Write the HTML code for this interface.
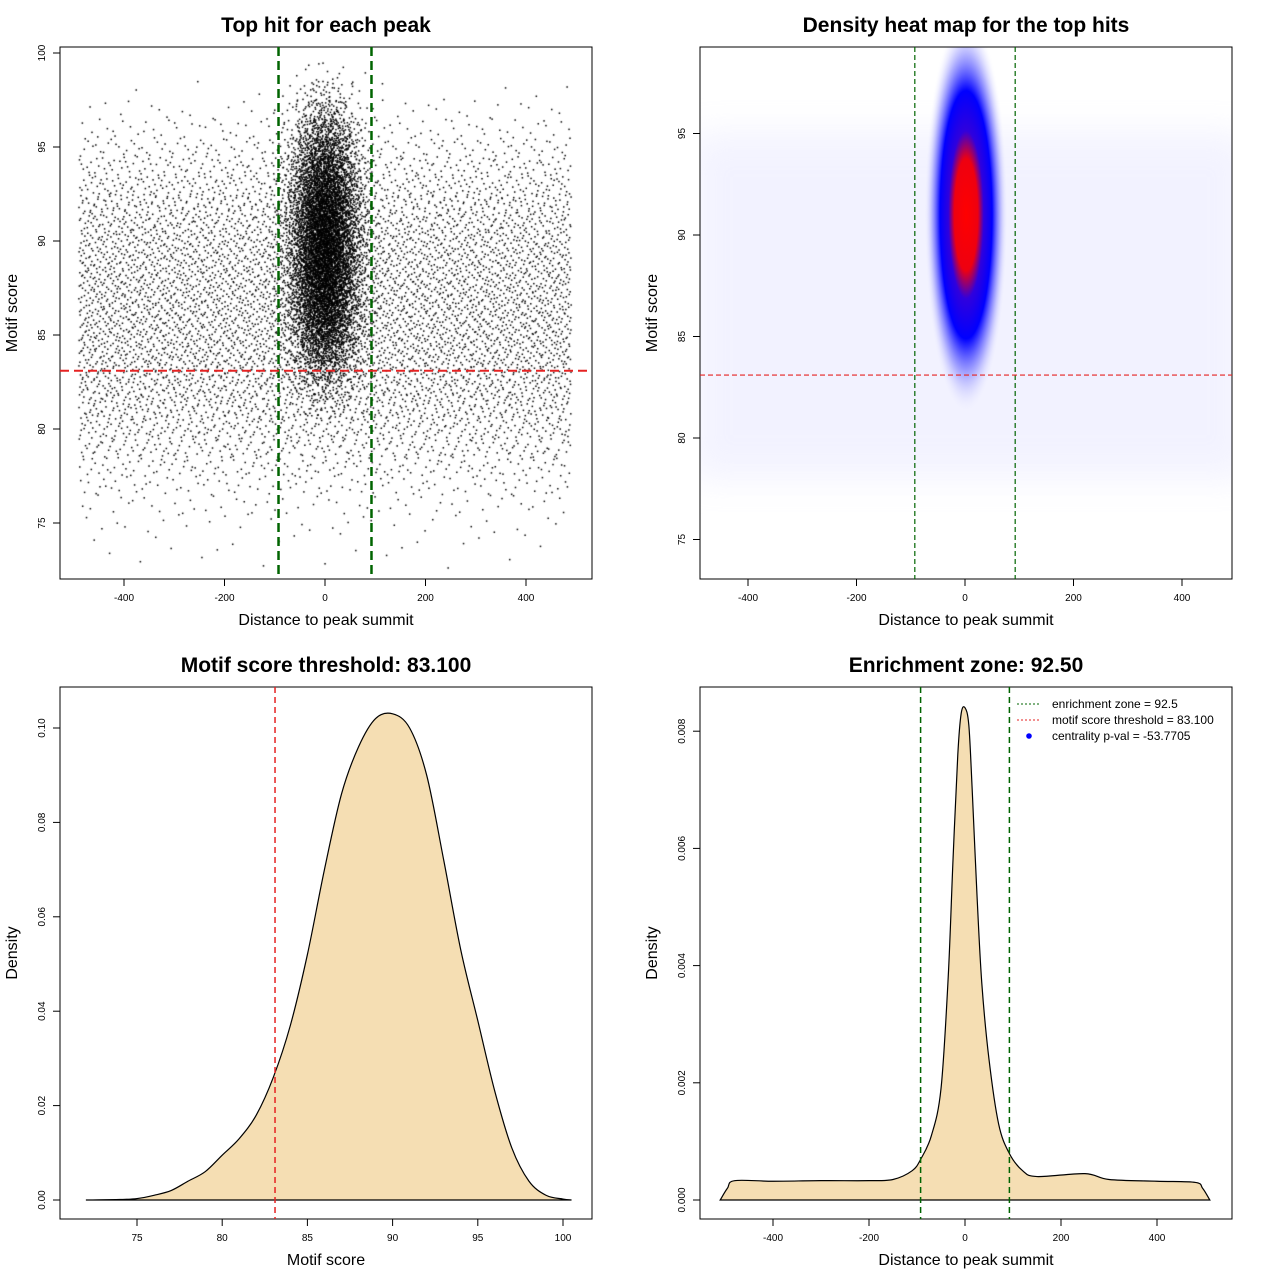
<!DOCTYPE html>
<html><head><meta charset="utf-8"><style>
html,body{margin:0;padding:0;background:#fff;}
#wrap{position:relative;width:1280px;height:1280px;font-family:"Liberation Sans",sans-serif;}
svg{position:absolute;left:0;top:0;}
canvas{position:absolute;left:0;top:0;}
</style></head><body>
<div id="wrap">
<svg id="svg" width="1280" height="1280">
<defs>
<radialGradient id="blobGrad" cx="0.5" cy="0.5" r="0.5">
<stop offset="0" stop-color="#ff0000"/>
<stop offset="0.28" stop-color="#ee0010"/>
<stop offset="0.42" stop-color="#3000dd"/>
<stop offset="0.62" stop-color="#0000ff"/>
<stop offset="0.8" stop-color="#5050ff" stop-opacity="0.45"/>
<stop offset="1" stop-color="#ffffff" stop-opacity="0"/>
</radialGradient>
<filter id="blur8"><feGaussianBlur stdDeviation="18"/></filter>
<clipPath id="clip2"><rect x="700" y="47" width="532" height="532"/></clipPath>
</defs>
</svg>
<canvas id="cv" width="1280" height="1280"></canvas>
<svg id="svgTop" width="1280" height="1280"></svg>
</div>
<script>
// ---------- data ----------
const scoreLevels = [73,74,75,76,77,78,79,80,81,82,83,84,85,86,87,88,89,90,91,92,93,94,95,96,97,98];
const bgCounts = [8,15,30,55,100,160,230,300,360,420,460,490,510,510,510,500,480,450,410,350,280,210,140,80,35,10];
const centerLevels = [81,82,83,84,85,86,87,88,89,90,91,92,93,94,95,96,97,98,99];
const centerCounts = [20,60,150,300,480,650,800,900,950,950,900,820,680,520,360,220,110,45,12];
const scoreX = [72,74,75,76,77,78,79,80,81,82,83,84,85,86,87,88,89,90,91,92,93,94,95,96,97,98,99,100,100.5];
const scoreDens = [0,0.0001,0.0003,0.001,0.002,0.004,0.006,0.0095,0.013,0.018,0.026,0.037,0.052,0.070,0.086,0.096,0.102,0.103,0.100,0.090,0.072,0.053,0.038,0.023,0.011,0.004,0.001,0.0002,0];
const distX = [-510,-495,-480,-400,-300,-200,-150,-110,-92,-70,-50,-35,-25,-15,-8,0,8,15,25,35,50,70,92,120,150,250,300,400,480,495,510];
const distDens = [0,0.0002,0.00033,0.00032,0.00033,0.00033,0.00035,0.0005,0.0007,0.0011,0.0019,0.0038,0.0058,0.0076,0.0083,0.0084,0.0081,0.007,0.0052,0.0037,0.0024,0.0013,0.0008,0.0005,0.0004,0.00045,0.00035,0.00032,0.0003,0.0002,0];
const xTicks1 = [-400,-200,0,200,400];
const yTicks1 = [75,80,85,90,95,100];
const yTicks2 = [75,80,85,90,95];
const xTicks3 = [75,80,85,90,95,100];
const yTicks3 = [0,0.02,0.04,0.06,0.08,0.10];
const yTicks3Labels = ["0.00","0.02","0.04","0.06","0.08","0.10"];
const yTicks4 = [0,0.002,0.004,0.006,0.008];
const yTicks4Labels = ["0.000","0.002","0.004","0.006","0.008"];
const threshold = 83.1;
const zone = 92.5;
const legendLabels = ["enrichment zone = 92.5","motif score threshold = 83.100","centrality p-val = -53.7705"];

// ---------- scales ----------
const P1 = {x:v=>325+v*0.5025, y:v=>241-(v-90)*18.8};
const P2 = {x:v=>965+v*0.5425, y:v=>235-(v-90)*20.3};
const P3 = {x:v=>137+(v-75)*17.04, y:v=>1200-v*4720};
const P4 = {x:v=>965+v*0.48, y:v=>1200-v*58600};

const NS="http://www.w3.org/2000/svg";
const svg=document.getElementById('svg');
const top2=document.getElementById('svgTop');
function mk(parent,tag,attrs,text){const e=document.createElementNS(NS,tag);for(const k in attrs)e.setAttribute(k,attrs[k]);if(text!==undefined)e.textContent=text;parent.appendChild(e);return e;}

function panel(x0,y0,title,xlab,ylab,xs,xt,xl,ys,yt,yl,pfx){
  const g=mk(top2,'g',{});
  
  
  const b=mk(g,'rect',{x:x0,y:y0,width:532,height:532,fill:'none',stroke:'#000','stroke-width':1});
  
  
  const t=mk(g,'text',{x:x0+266,y:y0-15,'text-anchor':'middle','font-size':21,'font-weight':'bold'},title);
  
  
  const xa=mk(g,'text',{x:x0+266,y:y0+578,'text-anchor':'middle','font-size':16},xlab);
  
  
  const ya=mk(g,'text',{x:x0-43,y:y0+266,'text-anchor':'middle','font-size':16,transform:`rotate(-90 ${x0-43} ${y0+266})`},ylab);
  
  
  const by=y0+532, lx=x0;
  mk(g,'line',{x1:xs(xt[0]),x2:xs(xt[xt.length-1]),y1:by,y2:by,stroke:'#000'});
  xt.forEach((v,i)=>{const px=xs(v);mk(g,'line',{x1:px,x2:px,y1:by,y2:by+7,stroke:'#000'});
    const l=mk(g,'text',{x:px,y:by+22,'text-anchor':'middle','font-size':10},xl[i]);
    
    });
  mk(g,'line',{x1:lx,x2:lx,y1:ys(yt[0]),y2:ys(yt[yt.length-1]),stroke:'#000'});
  yt.forEach((v,i)=>{const py=ys(v);mk(g,'line',{x1:lx,x2:lx-7,y1:py,y2:py,stroke:'#000'});
    const l=mk(g,'text',{x:lx-15,y:py,'text-anchor':'middle','font-size':10,transform:`rotate(-90 ${lx-15} ${py})`},yl[i]);
    
    });
  return g;
}
function vline(parent,x,y1,y2,col,w,dash,name){const l=mk(parent,'line',{x1:x,x2:x,y1:y1,y2:y2,stroke:col,'stroke-width':w,'stroke-dasharray':dash});return l;}
function hline(parent,y,x1,x2,col,w,dash,name){const l=mk(parent,'line',{x1:x1,x2:x2,y1:y,y2:y,stroke:col,'stroke-width':w,'stroke-dasharray':dash});return l;}

// ---------- panel 1 scatter ----------
function halton(i,b){let f=1,r=0;while(i>0){f/=b;r+=f*(i%b);i=Math.floor(i/b);}return r;}
const ctx=document.getElementById('cv').getContext('2d');
ctx.fillStyle='#000';
let idx=1;
scoreLevels.forEach((s,k)=>{for(let j=0;j<bgCounts[k];j++,idx++){
  const dx=-490+980*halton(idx,2), sc=s-0.5+halton(idx,3);
  ctx.fillRect(P1.x(dx)-0.7,P1.y(sc)-0.7,1.5,1.5);}});
centerLevels.forEach((s,k)=>{for(let j=0;j<centerCounts[k];j++,idx++){
  const u1=Math.max(1e-4,halton(idx,5)),u2=halton(idx,7);
  const dx=34*Math.sqrt(-2*Math.log(u1))*Math.cos(2*Math.PI*u2);
  const sc=s-0.5+halton(idx,3);
  ctx.fillRect(P1.x(dx)-0.7,P1.y(sc)-0.7,1.5,1.5);}});
const g1=panel(60,47,'Top hit for each peak','Distance to peak summit','Motif score',P1.x,xTicks1,xTicks1.map(String),P1.y,yTicks1,yTicks1.map(String),'scatter');
vline(g1,P1.x(-zone),47,579,'#006400',2.5,'9,5','zone-line-left');
vline(g1,P1.x(zone),47,579,'#006400',2.5,'9,5','zone-line-right');
hline(g1,P1.y(threshold),60,592,'#e52222',2,'9,5','threshold-line');

// ---------- panel 2 heatmap ----------
const hg=mk(svg,'g',{'clip-path':'url(#clip2)'});


const bg=mk(hg,'rect',{x:690,y:P2.y(95),width:560,height:P2.y(78)-P2.y(95),fill:'#d6d6ff',opacity:0.3,filter:'url(#blur8)'});


const blob=mk(hg,'ellipse',{cx:P2.x(2),cy:P2.y(91),rx:42,ry:200,fill:'url(#blobGrad)'});


const g2=panel(700,47,'Density heat map for the top hits','Distance to peak summit','Motif score',P2.x,xTicks1,xTicks1.map(String),P2.y,yTicks2,yTicks2.map(String),'heatmap');
vline(g2,P2.x(-zone),47,579,'#006400',1.2,'5,3','zone-line-left');
vline(g2,P2.x(zone),47,579,'#006400',1.2,'5,3','zone-line-right');
hline(g2,P2.y(threshold),700,1232,'#e52222',1.2,'5,3','threshold-line');

// ---------- smooth path ----------
function smooth(pts){let d=`M${pts[0][0]},${pts[0][1]}`;for(let i=0;i<pts.length-1;i++){const p0=pts[Math.max(0,i-1)],p1=pts[i],p2=pts[i+1],p3=pts[Math.min(pts.length-1,i+2)];
  const c1=[p1[0]+(p2[0]-p0[0])/6,p1[1]+(p2[1]-p0[1])/6],c2=[p2[0]-(p3[0]-p1[0])/6,p2[1]-(p3[1]-p1[1])/6];
  d+=` C${c1[0]},${c1[1]} ${c2[0]},${c2[1]} ${p2[0]},${p2[1]}`;}return d;}

// ---------- panel 3 ----------
const g3=panel(60,687,'Motif score threshold: 83.100','Motif score','Density',P3.x,xTicks3,xTicks3.map(String),P3.y,yTicks3,yTicks3Labels,'score-density');
const pts3=scoreX.map((v,i)=>[P3.x(v),P3.y(scoreDens[i])]);
const a3=mk(g3,'path',{d:smooth(pts3)+' Z',fill:'#f5deb3',stroke:'#000','stroke-width':1.2});


vline(g3,P3.x(threshold),687,1219,'#e52222',1.5,'6,4','threshold-line');

// ---------- panel 4 ----------
const g4=panel(700,687,'Enrichment zone: 92.50','Distance to peak summit','Density',P4.x,xTicks1,xTicks1.map(String),P4.y,yTicks4,yTicks4Labels,'distance-density');
const pts4=distX.map((v,i)=>[P4.x(v),P4.y(distDens[i])]);
const a4=mk(g4,'path',{d:smooth(pts4)+' Z',fill:'#f5deb3',stroke:'#000','stroke-width':1.2});


vline(g4,P4.x(-zone),687,1219,'#006400',1.5,'6,4','zone-line-left');
vline(g4,P4.x(zone),687,1219,'#006400',1.5,'6,4','zone-line-right');
const lg=mk(g4,'g',{});


const lcols=['#006400','#e52222'];
legendLabels.forEach((t,i)=>{const y=704+i*16;
  if(i<2) mk(lg,'line',{x1:1017,x2:1041,y1:y,y2:y,stroke:lcols[i],'stroke-width':1,'stroke-dasharray':'2,2'});
  else mk(lg,'circle',{cx:1029,cy:y,r:2.8,fill:'#0000ff'});
  const tx=mk(lg,'text',{x:1052,y:y+4,'font-size':12},t);
  
  });
</script>
</body></html>
